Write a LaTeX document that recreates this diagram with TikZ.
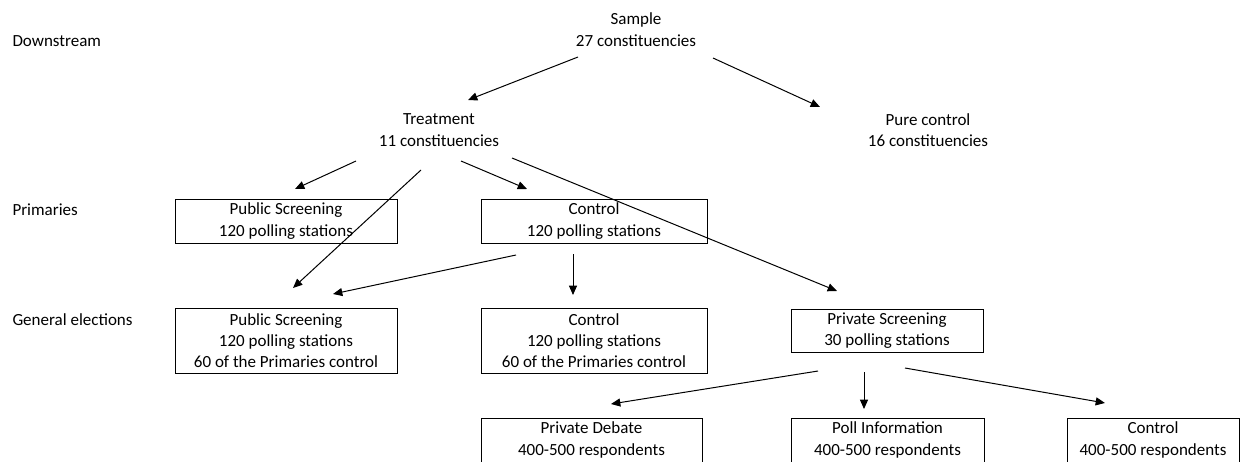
\documentclass[tikz,border=0pt]{standalone}
\usepackage{fontspec}
\setmainfont{Carlito}
\usetikzlibrary{arrows.meta,calc}

\tikzset{every picture/.style={line width=0.75pt}}
\tikzset{
  lbl/.style={inner sep=0pt, align=center, font=\fontsize{12.75pt}{16pt}\selectfont},
  box/.style={lbl, draw, minimum height=33pt, execute at begin node={\rule{0pt}{13pt}}},
  tall/.style={minimum height=48.75pt},
  arr/.style={-{Triangle[length=7pt,width=6pt]}},
}

\begin{document}
\begin{tikzpicture}[x=0.75pt,y=0.75pt,yscale=-1,xscale=1]
    \useasboundingbox (0,0) rectangle (1241,461);

    % Row labels
    \node (rowdown) [lbl, anchor=west] at (12,41) {Downstream};
    \node (rowprim) [lbl, anchor=west] at (12,210) {Primaries};
    \node (rowgen) [lbl, anchor=west] at (12,320) {General elections};

    % Text Node
    \node (sample) [lbl] at (636,29.5) {Sample\\27 constituencies};
    % Text Node
    \node (treat) [lbl] at (439,130) {Treatment\\11 constituencies};
    % Text Node
    \node (pure) [lbl] at (928,130) {Pure control\\16 constituencies};

    %Shape: Rectangle
    \node (pubprim) [box, minimum width=166.5pt] at (286,221) {Public Screening\\120 polling stations};
    %Shape: Rectangle
    \node (ctlprim) [box, minimum width=169.5pt] at (594,221) {Control\\120 polling stations};

    %Shape: Rectangle
    \node (pubgen) [box, tall, minimum width=166.5pt] at (286,340.5) {Public Screening\\120 polling stations\\60 of the Primaries control};
    %Shape: Rectangle
    \node (ctlgen) [box, tall, minimum width=169.5pt] at (594,340.5) {Control\\120 polling stations\\60 of the Primaries control};
    %Shape: Rectangle
    \node (privgen) [box, minimum width=144pt, minimum height=32.25pt] at (887,330.5) {Private Screening\\30 polling stations};

    %Shape: Rectangle
    \node (debate) [box, minimum width=165.75pt] at (591.5,440) {Private Debate\\400-500 respondents};
    %Shape: Rectangle
    \node (pollinfo) [box, minimum width=144.75pt] at (887.5,440) {Poll Information\\400-500 respondents};
    %Shape: Rectangle
    \node (ctlresp) [box, minimum width=129pt] at (1153,440) {Control\\400-500 respondents};

    %Straight Lines
    \draw [arr] ($(sample)+(-58,27.5)$) -- ($(treat)+(29,-30)$);
    \draw [arr] ($(sample)+(77,28.5)$) -- ($(pure)+(-108,-23)$);

    %Straight Lines
    \draw [arr] ($(treat)+(-83,31)$) -- ($(pubprim)+(9,-32)$);
    \draw [arr] ($(treat)+(-18,40)$) -- ($(pubgen)+(7,-52.5)$);
    \draw [arr] ($(treat)+(22,31)$) -- ($(ctlprim)+(-67,-32)$);
    \draw [arr] ($(treat)+(73,28)$) -- ($(privgen)+(-50,-39.5)$);

    %Straight Lines
    \draw [arr] ($(ctlprim)+(-78,34)$) -- ($(pubgen)+(47,-46.5)$);
    \draw [arr] ($(ctlprim)+(-21,33)$) -- ($(ctlgen)+(-21,-45.5)$);

    %Straight Lines
    \draw [arr] ($(privgen)+(-69,40.5)$) -- ($(debate)+(19.5,-36)$);
    \draw [arr] ($(privgen)+(-23,41.5)$) -- ($(pollinfo)+(-23.5,-31)$);
    \draw [arr] ($(privgen)+(18,37.5)$) -- ($(ctlresp)+(-48,-37)$);

\end{tikzpicture}
\end{document}
